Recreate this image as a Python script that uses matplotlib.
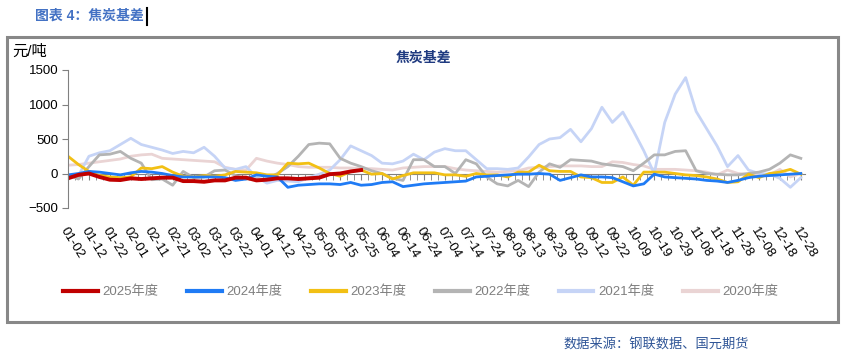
import numpy as np
import matplotlib
matplotlib.use("Agg")
import matplotlib.pyplot as plt
from matplotlib.ticker import MultipleLocator, FixedLocator
from matplotlib.patches import Rectangle
from matplotlib.lines import Line2D

plt.rcParams['font.family'] = ['Liberation Sans', 'Noto Sans CJK SC', 'DejaVu Sans']
plt.rcParams['axes.unicode_minus'] = True

# === Category labels (every 10 trading days) ===
tick_labels = ["01-02", "01-12", "01-22", "02-01", "02-11", "02-21", "03-02", "03-12",
               "03-22", "04-01", "04-12", "04-22", "05-05", "05-15", "05-25", "06-04",
               "06-14", "06-24", "07-04", "07-14", "07-24", "08-03", "08-13", "08-23",
               "09-02", "09-12", "09-22", "10-09", "10-19", "10-29", "11-08", "11-18",
               "11-28", "12-08", "12-18", "12-28"]

# values sampled every 5 categories (元/吨)
y2025 = [-70, -20, 0, -50, -90, -95, -70, -80, -70, -60, -60, -110, -110, -120, -100,
         -100, -60, -60, -100, -90, -70, -70, -80, -70, -60, -10, 0, 30, 50]
y2024 = [-20, 0, 30, 20, 0, -20, 10, 30, 20, 0, -30, -50, -50, -50, -50, -60, -100, -80,
         -20, -40, -50, -200, -170, -160, -150, -150, -160, -130, -170, -160, -130, -120,
         -190, -170, -150, -140, -130, -120, -110, -50, -40, -30, -20, -10, -10, 0, -10,
         -100, -60, -20, -50, -50, -60, -120, -180, -150, -10, -50, -60, -70, -80, -100,
         -110, -130, -100, -60, -40, -30, -20, -10, 0]
y2023 = [250, 130, 30, -30, -50, -60, -50, 80, 70, 100, 20, -40, -50, -30, -40, -20, 30,
         20, 10, -20, -20, 150, 140, 150, 80, 0, -40, 30, 50, -10, 0, -80, -30, 10, 10, 10,
         -20, -20, -40, 0, -20, -20, -50, 20, 20, 120, 40, 30, 30, -50, -60, -130, -130,
         -50, -170, 20, 20, 20, 0, -20, -30, -50, -80, -130, -120, -10, -60, 0, 20, 60, -10]
y2022 = [-20, -80, 100, 270, 280, 320, 220, 150, -90, -80, -170, 30, -60, -50, 40, 50,
         -30, -80, -80, -80, 0, 100, 250, 420, 440, 430, 220, 150, 100, 40, 0, -70, -100,
         200, 200, 100, 100, 0, 200, 140, -50, -150, -180, -100, -190, 20, 140, 90, 200,
         190, 180, 140, 120, 100, 40, 150, 270, 270, 320, 330, 40, 0, -10, -20, -20, 0, 20,
         60, 150, 270, 220]
y2021 = [-50, -30, 250, 300, 330, 420, 510, 420, 380, 340, 290, 320, 300, 380, 250, 80,
         60, 100, -50, -140, -100, -110, -120, -60, -10, 50, 200, 400, 330, 260, 150, 140,
         180, 280, 200, 310, 360, 330, 330, 200, 70, 70, 60, 80, 240, 420, 500, 520, 640,
         460, 650, 960, 740, 890, 620, 330, 0, 740, 1150, 1390, 900, 650, 400, 100, 260, 50,
         0, -10, -70, -200, -60]
y2020 = [120, 130, 150, 170, 190, 210, 250, 270, 280, 220, 210, 200, 190, 180, 170, 90, 60,
         50, 220, 180, 150, 130, 100, 90, 90, 90, 80, 80, 70, 70, 60, 50, 80, 90, 100, 100,
         100, 70, 50, 40, 30, 20, 30, 40, 80, 90, 100, 110, 110, 110, 100, 100, 170, 160,
         130, 110, 60, 60, 60, 50, 40, 20, -20, 50, 0, -10, -20, -20, 60, -50, 0]

series = [
    ("2025年度", y2025, "#c00000", 2.8),
    ("2024年度", y2024, "#1f7bf5", 2.0),
    ("2023年度", y2023, "#f2c014", 2.0),
    ("2022年度", y2022, "#b4b4b4", 2.0),
    ("2021年度", y2021, "#c6d4f6", 2.0),
    ("2020年度", y2020, "#ead4d4", 2.0),
]

# === Figure ===
fig = plt.figure(figsize=(8.5, 3.52), dpi=100)
ax = fig.add_axes([68 / 850, 1 - 208 / 352, 737 / 850, 138 / 352])

# draw oldest first so 2025 sits on top
for name, vals, color, lw in reversed(series):
    idx = np.arange(len(vals)) * 5
    ax.plot(idx, vals, color=color, lw=lw, label=name, solid_joinstyle="round")

ax.set_xlim(0, 352)
ax.set_ylim(-500, 1500)
ax.yaxis.set_major_locator(MultipleLocator(500))
ax.tick_params(axis="y", labelsize=9.5, length=4, color="#808080", pad=3)
for s in ["top", "right"]:
    ax.spines[s].set_visible(False)
ax.spines["left"].set_color("#808080")
ax.spines["bottom"].set_position(("data", 0))
ax.spines["bottom"].set_color("#808080")
ax.spines["bottom"].set_zorder(0.5)

ax.xaxis.set_major_locator(FixedLocator(np.arange(len(tick_labels)) * 10))
ax.xaxis.set_minor_locator(MultipleLocator(10 / 3))
ax.set_xticklabels(tick_labels, rotation=-58, ha="left", va="top",
                   rotation_mode="anchor", fontsize=9.5)
ax.tick_params(axis="x", which="both", length=4, color="#808080", pad=33)

# === Legend ===
order = [h for h in ax.get_lines()][::-1]
leg = fig.legend(handles=order, labels=[s[0] for s in series], loc="center",
                 bbox_to_anchor=(0.495, 1 - 292 / 352), ncol=6, frameon=False,
                 handlelength=2.6, handletextpad=0.35, columnspacing=2.2,
                 fontsize=9.5, labelcolor="#7f7f7f")
for h in leg.legend_handles:
    h.set_linewidth(3)

# === Texts and frame ===
fig.add_artist(Rectangle((7 / 850, 1 - 322 / 352), 831 / 850, 285 / 352,
                         transform=fig.transFigure, fill=False,
                         edgecolor="#888888", lw=2.2))
fig.text(35 / 850, 1 - 16 / 352, "图表 4：焦炭基差", color="#4472c4",
         fontsize=10, fontweight="bold", va="center", ha="left")
fig.add_artist(Line2D([147 / 850, 147 / 850], [1 - 8 / 352, 1 - 25 / 352],
                      transform=fig.transFigure, color="black", lw=1.5))
fig.text(12 / 850, 1 - 52 / 352, "元/吨", fontsize=11, va="center", ha="left")
fig.text(423 / 850, 1 - 58 / 352, "焦炭基差", color="#1f3a80", fontsize=10,
         fontweight="bold", va="center", ha="center")
fig.text(656 / 850, 1 - 345 / 352, "数据来源：钢联数据、国元期货", color="#2f5597",
         fontsize=9.5, va="center", ha="center")

fig.savefig("out.png", dpi=100)
